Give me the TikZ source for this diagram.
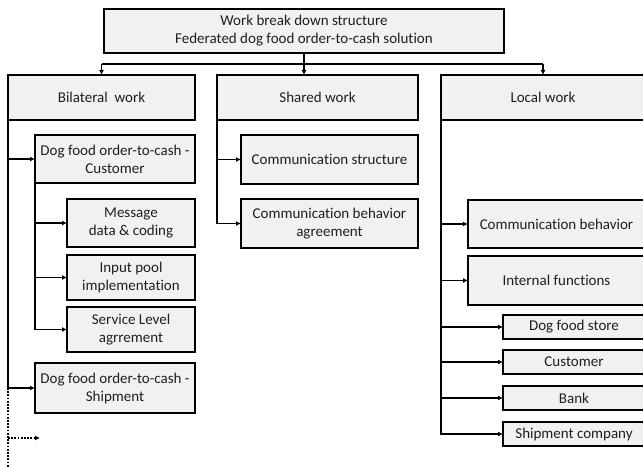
\documentclass[tikz,border=0pt]{standalone}
\usepackage{fontspec}
\setmainfont{Carlito}[Ligatures=NoCommon]
\usetikzlibrary{arrows.meta,calc}
\definecolor{boxfill}{HTML}{F1F1F1}
\tikzset{
  wbs/.style={draw=black, line width=2.3pt, fill=boxfill, anchor=north west,
    inner sep=0pt, outer sep=0pt, align=center,
    font=\fontsize{15}{18}\selectfont, text=black!88},
  link/.style={draw=black, line width=1.9pt,
    -{Latex[length=5pt,width=5pt]}},
  plain/.style={draw=black, line width=1.9pt},
  dotline/.style={draw=black, line width=2.6pt, dash pattern=on 1.8pt off 1.4pt},
  dots/.style={dotline, -{Latex[length=5pt,width=5pt]}}
}
\begin{document}
\begin{tikzpicture}[x=1pt,y=-1pt]
\useasboundingbox (0,0) rectangle (643,468);

% root
\node[wbs, minimum width=400, minimum height=44] (root) at (104,9)
  {Work break down structure\\Federated dog food order-to-cash solution};

% first level
\node[wbs, minimum width=187, minimum height=45] (bil) at (8,75) {Bilateral~ work};
\node[wbs, minimum width=201, minimum height=45] (sha) at (217,75) {Shared work};
\node[wbs, minimum width=204, minimum height=45] (loc) at (441,75) {Local work};

% bilateral work
\node[wbs, minimum width=160, minimum height=48] (cust) at (35,135) {Dog food order-to-cash -\\Customer};
\node[wbs, minimum width=128, minimum height=48] (msg) at (67,199) {Message\\data \& coding};
\node[wbs, minimum width=128, minimum height=45] (inp) at (67,255) {Input pool\\implementation};
\node[wbs, minimum width=128, minimum height=45] (sla) at (67,307) {Service Level\\agrrement};
\node[wbs, minimum width=160, minimum height=50] (ship) at (35,363) {Dog food order-to-cash -\\Shipment};

% shared work
\node[wbs, minimum width=177, minimum height=49] (cs) at (241,135) {Communication structure};
\node[wbs, minimum width=177, minimum height=49] (cba) at (241,199) {Communication behavior\\agreement};

% local work
\node[wbs, minimum width=177, minimum height=48] (lcb) at (468,200) {Communication behavior};
\node[wbs, minimum width=177, minimum height=49] (lif) at (468,256) {Internal functions};
\node[wbs, minimum width=142, minimum height=24] (dfs) at (503,315) {Dog food store};
\node[wbs, minimum width=142, minimum height=24] (cus) at (503,350) {Customer};
\node[wbs, minimum width=142, minimum height=24] (bank) at (503,386) {Bank};
\node[wbs, minimum width=142, minimum height=24] (shc) at (503,422) {Shipment company};

% root to first level
\coordinate (bus) at ($(root.south)+(0,11)$);
\draw[plain] (root.south) -- (bus);
\draw[plain] (bus -| bil.north) -- (bus -| loc.north);
\draw[link] (bus -| bil.north) -- (bil.north);
\draw[link] (bus) -- (bus |- sha.north);
\draw[link] (bus -| loc.north) -- (loc.north);

% bilateral branches
\draw[link] (bil.south west) |- (cust.west);
\draw[link] (bil.south west) |- (ship.west);
\draw[link] (cust.south west) |- (msg.west);
\draw[link] (cust.south west) |- (inp.west);
\draw[link] (cust.south west) |- (sla.west);

% continuation below the shipment branch
\coordinate (dtop) at (bil.south west |- ship.west);
\coordinate (dend) at (8,470);
\coordinate (dtip) at (40,438);
\draw[dotline] (dtop) -- (dend);
\draw[dots] (dtip -| dtop) -- (dtip);

% shared branches
\draw[link] (sha.south west) |- (cs.west);
\draw[link] (sha.south west) |- (cba.west);

% local branches
\draw[link] (loc.south west) |- (lcb.west);
\draw[link] (loc.south west) |- (lif.west);
\draw[link] (loc.south west) |- (dfs.west);
\draw[link] (loc.south west) |- (cus.west);
\draw[link] (loc.south west) |- (bank.west);
\draw[link] (loc.south west) |- (shc.west);
\end{tikzpicture}
\end{document}
